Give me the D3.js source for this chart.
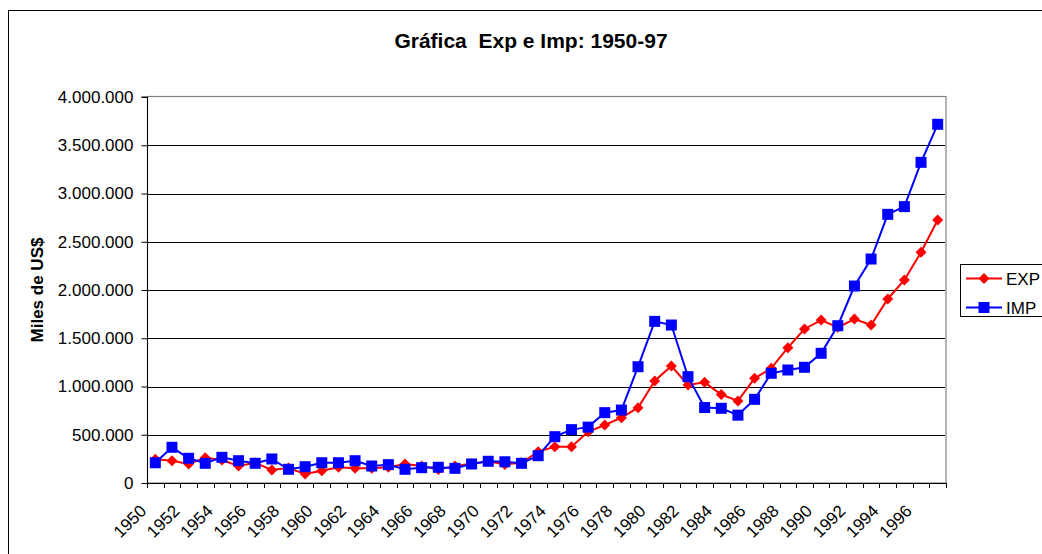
<!DOCTYPE html>
<html>
<head>
<meta charset="utf-8">
<script src="https://cdn.jsdelivr.net/npm/d3@7"></script>
<style>
  body { margin: 0; background: #fff; }
  svg { display: block; font-family: "Liberation Sans", Arial, sans-serif; }
</style>
</head>
<body>
<svg id="chart" width="1042" height="554"></svg>
<script>
const titleText = "Gráfica  Exp e Imp: 1950-97";
const yAxisTitle = "Miles de US$";
const years = d3.range(1950, 1998);
const expValues = [
  245000, 231000, 197000, 262000, 238000, 176000, 210000, 135000, 155000, 93000,
  128000, 163000, 152000, 152000, 163000, 197000, 176000, 140000, 176000, 200000,
  225000, 193000, 210000, 325000, 376000, 376000, 530000, 601000, 677000, 780000,
  1057000, 1212000, 1016000, 1043000, 917000, 851000, 1085000, 1188000, 1402000, 1596000,
  1689000, 1613000, 1699000, 1637000, 1907000, 2104000, 2391000, 2725000
];
const impValues = [
  210000, 370000, 256000, 204000, 266000, 231000, 204000, 249000, 142000, 169000,
  210000, 210000, 231000, 176000, 190000, 142000, 159000, 163000, 152000, 197000,
  225000, 220000, 204000, 283000, 480000, 553000, 579000, 729000, 756000, 1205000,
  1675000, 1637000, 1102000, 782000, 774000, 703000, 867000, 1137000, 1171000, 1199000,
  1344000, 1630000, 2041000, 2321000, 2784000, 2864000, 3323000, 3717000
];
const yTicks = [0, 500000, 1000000, 1500000, 2000000, 2500000, 3000000, 3500000, 4000000];
const xLabelYears = years.filter(y => (y - 1950) % 2 === 0);
const seriesNames = ["EXP", "IMP"];

(function () {
const svg = d3.select("#chart");
const pLeft = 147, pRight = 946, pTop = 97, pBottom = 483;

const x = d3.scaleBand().domain(years).range([pLeft, pRight]).padding(0);
const y = d3.scaleLinear().domain([0, 4000000]).range([pBottom, pTop]);
const cx = d => x(d) + x.bandwidth() / 2;
const fmt = v => v === 0 ? "0" : d3.format(",")(v).replace(/,/g, ".");

// outer border
svg.append("rect").attr("x", 8.5).attr("y", 10.5).attr("width", 1100).attr("height", 600)
  .attr("fill", "#fff").attr("stroke", "#000").attr("stroke-width", 1);

// title
svg.append("text").attr("x", 531).attr("y", 48).attr("text-anchor", "middle")
  .attr("font-size", 21).attr("font-weight", "bold").attr("fill", "#000")
  .style("white-space", "pre").text(titleText);

// plot border (gray)
svg.append("rect").attr("x", pLeft + 0.5).attr("y", pTop - 0.5)
  .attr("width", pRight - pLeft - 0.5).attr("height", pBottom - pTop + 0.5)
  .attr("fill", "none").attr("stroke", "#808080").attr("stroke-width", 1.2);

// gridlines
svg.append("g").selectAll("line").data(yTicks.filter(t => t > 0 && t < 4000000)).join("line")
  .attr("x1", pLeft).attr("x2", pRight - 1)
  .attr("y1", d => Math.round(y(d)) + 0.5).attr("y2", d => Math.round(y(d)) + 0.5)
  .attr("stroke", "#000").attr("stroke-width", 1);

// y axis
const yAxis = d3.axisLeft(y).tickValues(yTicks).tickFormat(fmt).tickSize(6).tickPadding(8);
const gy = svg.append("g").attr("transform", `translate(${pLeft + 0.5},0)`).call(yAxis);
gy.select(".domain").attr("stroke", "#000").attr("d", `M-6,${pTop}H0V${pBottom}`);
gy.selectAll(".tick line").attr("stroke", "#000");
gy.selectAll(".tick text").attr("font-size", 17).attr("fill", "#000")
  .attr("font-family", "Liberation Sans, Arial, sans-serif");

// x axis line
svg.append("line").attr("x1", pLeft).attr("x2", pRight).attr("y1", pBottom + 0.5).attr("y2", pBottom + 0.5)
  .attr("stroke", "#000").attr("stroke-width", 1.2);
// x ticks at category boundaries
const boundaries = years.map(d => x(d)).concat([pRight]);
svg.append("g").selectAll("line").data(boundaries).join("line")
  .attr("x1", d => Math.round(d) + 0.5).attr("x2", d => Math.round(d) + 0.5)
  .attr("y1", pBottom).attr("y2", pBottom + 5)
  .attr("stroke", "#000").attr("stroke-width", 1);
// x labels
svg.append("g").selectAll("text").data(xLabelYears).join("text")
  .attr("transform", d => `translate(${cx(d) - 8},${pBottom + 29}) rotate(-45)`)
  .attr("text-anchor", "end").attr("font-size", 17).attr("fill", "#000")
  .text(d => d);

// y axis title
svg.append("text").attr("transform", "translate(42.5,290) rotate(-90)")
  .attr("text-anchor", "middle").attr("font-size", 17).attr("font-weight", "bold")
  .attr("fill", "#000").text(yAxisTitle);

const line = d3.line().x((d, i) => cx(years[i])).y(d => y(d));
const diamond = s => `M0,${-s}L${s},0L0,${s}L${-s},0Z`;

// EXP series
svg.append("path").datum(expValues).attr("d", line)
  .attr("fill", "none").attr("stroke", "#FF0000").attr("stroke-width", 2);
svg.append("g").selectAll("path").data(expValues).join("path")
  .attr("transform", (d, i) => `translate(${cx(years[i])},${y(d)})`)
  .attr("d", diamond(5.5)).attr("fill", "#FF0000");

// IMP series
svg.append("path").datum(impValues).attr("d", line)
  .attr("fill", "none").attr("stroke", "#0000FF").attr("stroke-width", 2);
svg.append("g").selectAll("rect").data(impValues).join("rect")
  .attr("x", (d, i) => cx(years[i]) - 5.5).attr("y", d => y(d) - 5.5)
  .attr("width", 11).attr("height", 11).attr("fill", "#0000FF");

// legend
const lg = svg.append("g");
lg.append("rect").attr("x", 960.5).attr("y", 264.5).attr("width", 100).attr("height", 52)
  .attr("fill", "#fff").attr("stroke", "#000").attr("stroke-width", 1);
const legendY = [278.5, 307.5];
const colors = ["#FF0000", "#0000FF"];
seriesNames.forEach((name, i) => {
  lg.append("line").attr("x1", 966).attr("x2", 1002).attr("y1", legendY[i]).attr("y2", legendY[i])
    .attr("stroke", colors[i]).attr("stroke-width", 2);
  if (i === 0) {
    lg.append("path").attr("transform", `translate(984,${legendY[i]})`).attr("d", diamond(5.5)).attr("fill", colors[i]);
  } else {
    lg.append("rect").attr("x", 984 - 5.5).attr("y", legendY[i] - 5.5).attr("width", 11).attr("height", 11).attr("fill", colors[i]);
  }
  lg.append("text").attr("x", 1006).attr("y", legendY[i] + 6).attr("font-size", 17).attr("fill", "#000").text(name);
});
})();
</script>
</body>
</html>
